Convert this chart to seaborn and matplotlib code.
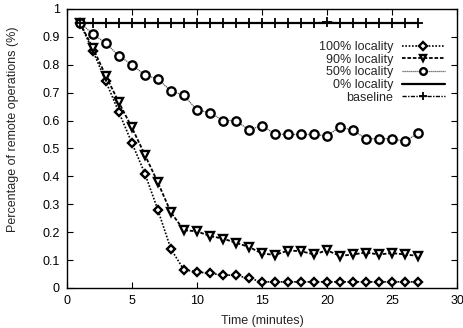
import numpy as np
import pandas as pd
import matplotlib
matplotlib.use('Agg')
import matplotlib.pyplot as plt
import seaborn as sns

# 데이터
minutes = list(range(1, 28))
loc100 = [0.95, 0.85, 0.74, 0.63, 0.52, 0.41, 0.28, 0.14, 0.065, 0.058, 0.052, 0.047, 0.045, 0.035,
          0.022, 0.022, 0.022, 0.022, 0.022, 0.022, 0.022, 0.022, 0.022, 0.022, 0.022, 0.022, 0.022]
loc90 = [0.95, 0.86, 0.76, 0.665, 0.575, 0.477, 0.378, 0.271, 0.207, 0.203, 0.186, 0.177, 0.162, 0.147,
         0.124, 0.118, 0.134, 0.132, 0.12, 0.135, 0.115, 0.12, 0.127, 0.12, 0.125, 0.12, 0.115]
loc50 = [0.95, 0.91, 0.877, 0.832, 0.80, 0.763, 0.749, 0.706, 0.69, 0.638, 0.628, 0.60, 0.60, 0.566,
         0.582, 0.552, 0.55, 0.55, 0.55, 0.545, 0.577, 0.565, 0.535, 0.535, 0.535, 0.525, 0.555]
loc0 = [0.95] * 27
baseline = [0.95, 0.95, 0.95, 0.95, 0.95, 0.95, 0.95, 0.95, 0.95, 0.95, 0.95, 0.95, 0.95, 0.95,
            0.95, 0.95, 0.95, 0.95, 0.95, 0.952, 0.95, 0.95, 0.95, 0.95, 0.95, 0.95, 0.95]

sns.set_style('ticks')
plt.rcParams['font.family'] = ['Liberation Sans', 'DejaVu Sans']

fig = plt.figure(figsize=(4.64, 3.28), dpi=100)
ax = fig.add_axes([0.144, 0.122, 0.841, 0.851])

mk = dict(markerfacecolor='white', markeredgecolor='black', markeredgewidth=1.7)

sns.lineplot(x=minutes, y=loc100, ax=ax, color='black', linestyle=(0, (1, 1)), linewidth=1.2,
             marker='D', markersize=4.5, label='100% locality', **mk)
sns.lineplot(x=minutes, y=loc90, ax=ax, color='black', linestyle=(0, (2, 1)), linewidth=1.3,
             marker='v', markersize=6, label='90% locality', **mk)
sns.lineplot(x=minutes, y=loc50, ax=ax, color='#555555', linestyle=(0, (1, 0.6)), linewidth=0.9,
             marker='o', markersize=6, label='50% locality', **mk)
sns.lineplot(x=minutes, y=loc0, ax=ax, color='black', linestyle='-', linewidth=1.6,
             label='0% locality')
sns.lineplot(x=minutes, y=baseline, ax=ax, color='black', linestyle=(0, (3, 1, 1, 1)), linewidth=1.0,
             marker='+', markersize=7, markeredgewidth=1.3, markeredgecolor='black', label='baseline')

ax.set_xlim(0, 30)
ax.set_ylim(0, 1)
ax.set_xticks(range(0, 31, 5))
ax.set_yticks(np.arange(0, 1.01, 0.1))
ax.set_yticklabels(['0', '0.1', '0.2', '0.3', '0.4', '0.5', '0.6', '0.7', '0.8', '0.9', '1'])
ax.tick_params(direction='in', top=True, right=True, labelsize=9, length=4.5, width=0.8,
               colors='black', pad=5)
for s in ax.spines.values():
    s.set_linewidth(1.0)
    s.set_color('black')
ax.set_xlabel('Time (minutes)', fontsize=9)
ax.set_ylabel('Percentage of remote operations (%)', fontsize=9)
ax.xaxis.set_label_coords(0.5, -0.095)
ax.yaxis.set_label_coords(-0.123, 0.57)

ax.legend(loc='upper right', bbox_to_anchor=(0.997, 0.925), frameon=False, markerfirst=False,
          fontsize=9, handlelength=3.4, handletextpad=0.7, labelspacing=0.05, borderpad=0.4,
          markerscale=0.8)

fig.savefig('out.png', dpi=100)
